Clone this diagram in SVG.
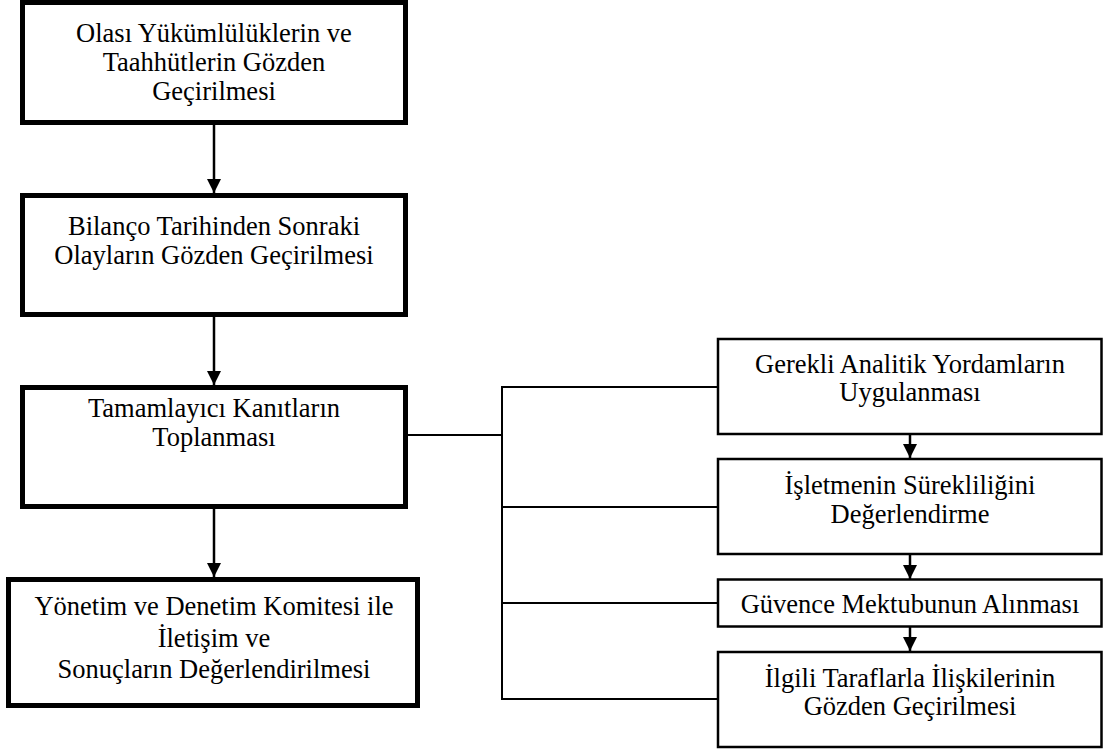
<svg xmlns="http://www.w3.org/2000/svg" width="1104" height="751" viewBox="0 0 1104 751">
  <style>
    .main { fill: #fff; stroke: #000; stroke-width: 5; }
    .sub { fill: #fff; stroke: #000; stroke-width: 2.5; }
    .lbl { font-family: "Liberation Serif", "Times New Roman", serif; font-size: 26.5px; fill: #000; text-anchor: middle; }
    .link { fill: none; stroke: #000; stroke-width: 2.5; }
    .bus { fill: none; stroke: #000; stroke-width: 2; }
  </style>
  <defs>
    <marker id="arrow" viewBox="0 0 14 14" refX="14" refY="7" markerWidth="14" markerHeight="14" markerUnits="userSpaceOnUse" orient="auto">
      <path d="M0,0 L14,7 L0,14 Z" fill="#000"/>
    </marker>
  </defs>

  <!-- connectors -->
  <g id="connectors">
    <line class="link" x1="214" y1="125" x2="214" y2="193" marker-end="url(#arrow)"/>
    <line class="link" x1="214" y1="317" x2="214" y2="385" marker-end="url(#arrow)"/>
    <line class="link" x1="214" y1="509" x2="214" y2="577" marker-end="url(#arrow)"/>
    <line class="link" x1="910" y1="435" x2="910" y2="458" marker-end="url(#arrow)"/>
    <line class="link" x1="910" y1="555" x2="910" y2="579" marker-end="url(#arrow)"/>
    <line class="link" x1="910" y1="627" x2="910" y2="651" marker-end="url(#arrow)"/>
    <!-- branch bus from the evidence box to the four sub-steps -->
    <line class="bus" x1="408" y1="435" x2="502" y2="435" stroke-width="1.6"/>
    <line class="bus" x1="502" y1="387" x2="502" y2="699"/>
    <line class="bus" x1="501" y1="387" x2="718" y2="387"/>
    <line class="bus" x1="501" y1="507" x2="718" y2="507"/>
    <line class="bus" x1="501" y1="603" x2="718" y2="603"/>
    <line class="bus" x1="501" y1="699" x2="718" y2="699"/>
  </g>

  <g id="n1">
    <rect class="main" x="22.5" y="2.5" width="383" height="120"/>
    <text class="lbl" x="214" y="42">Olası Yükümlülüklerin ve</text>
    <text class="lbl" x="214" y="71">Taahhütlerin Gözden</text>
    <text class="lbl" x="214" y="100">Geçirilmesi</text>
  </g>

  <g id="n2">
    <rect class="main" x="22.5" y="195.5" width="383" height="119"/>
    <text class="lbl" x="214" y="235">Bilanço Tarihinden Sonraki</text>
    <text class="lbl" x="214" y="264">Olayların Gözden Geçirilmesi</text>
  </g>

  <g id="n3">
    <rect class="main" x="22.5" y="387.5" width="383" height="119"/>
    <text class="lbl" x="214" y="417">Tamamlayıcı Kanıtların</text>
    <text class="lbl" x="214" y="446">Toplanması</text>
  </g>

  <g id="n4">
    <rect class="main" x="8.5" y="579.5" width="409" height="126"/>
    <text class="lbl" x="214" y="615">Yönetim ve Denetim Komitesi ile</text>
    <text class="lbl" x="214" y="647">İletişim ve</text>
    <text class="lbl" x="214" y="678">Sonuçların Değerlendirilmesi</text>
  </g>

  <g id="s1">
    <rect class="sub" x="718" y="339" width="383.5" height="95"/>
    <text class="lbl" x="910" y="373">Gerekli Analitik Yordamların</text>
    <text class="lbl" x="910" y="401">Uygulanması</text>
  </g>

  <g id="s2">
    <rect class="sub" x="718" y="459" width="383.5" height="95"/>
    <text class="lbl" x="910" y="494">İşletmenin Sürekliliğini</text>
    <text class="lbl" x="910" y="523">Değerlendirme</text>
  </g>

  <g id="s3">
    <rect class="sub" x="718" y="579.5" width="383.5" height="47"/>
    <text class="lbl" x="910" y="613">Güvence Mektubunun Alınması</text>
  </g>

  <g id="s4">
    <rect class="sub" x="718" y="652" width="383.5" height="95"/>
    <text class="lbl" x="910" y="687">İlgili Taraflarla İlişkilerinin</text>
    <text class="lbl" x="910" y="715">Gözden Geçirilmesi</text>
  </g>
</svg>
